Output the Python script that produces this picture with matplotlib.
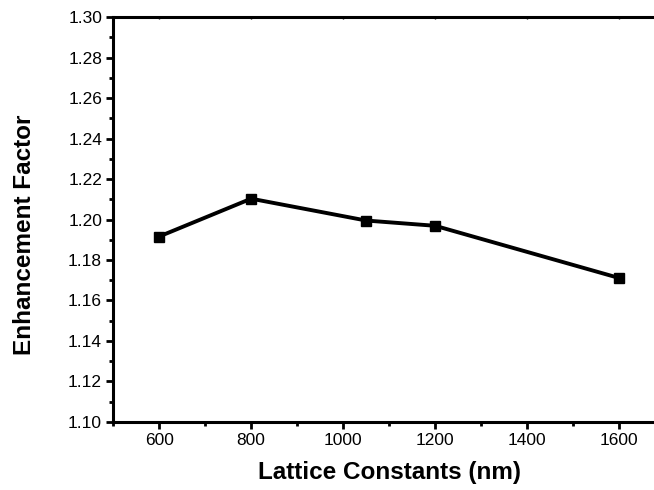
import matplotlib
matplotlib.use("Agg")
from matplotlib import pyplot as plt
from matplotlib.ticker import MultipleLocator, FormatStrFormatter

# Data
lattice = [600, 800, 1050, 1200, 1600]
enhancement = [1.1916, 1.2103, 1.1995, 1.1969, 1.1711]

plt.rcParams['font.family'] = ['Liberation Sans', 'DejaVu Sans']

fig = plt.figure(figsize=(6.54, 4.9), dpi=100)
# axes runs past the right edge of the figure, like the cropped original
ax = fig.add_axes([0.173, 0.139, 0.844, 0.826])

ax.plot(lattice, enhancement, color='black', linewidth=2.8,
        marker='s', markersize=6.5)

ax.set_xlim(500, 1700)
ax.set_ylim(1.10, 1.30)
ax.xaxis.set_major_locator(MultipleLocator(200))
ax.xaxis.set_minor_locator(MultipleLocator(100))
ax.yaxis.set_major_locator(MultipleLocator(0.02))
ax.yaxis.set_minor_locator(MultipleLocator(0.01))
ax.yaxis.set_major_formatter(FormatStrFormatter('%.2f'))

for s in ax.spines.values():
    s.set_linewidth(2.2)

ax.tick_params(which='major', direction='out', length=5, width=2, labelsize=12.5, pad=3)
ax.tick_params(which='minor', direction='out', length=3, width=2)
# tiny inward marks on the top spine
top = ax.secondary_xaxis('top')
top.tick_params(which='both', direction='in', length=1.5, width=1, labeltop=False)

ax.set_xlabel('Lattice Constants (nm)', fontsize=17.5, fontweight='bold', labelpad=9)
ax.set_ylabel('Enhancement Factor', fontsize=17.5, fontweight='bold')
ax.yaxis.set_label_coords(-0.139, 0.462)

fig.savefig('out.png', dpi=100)
